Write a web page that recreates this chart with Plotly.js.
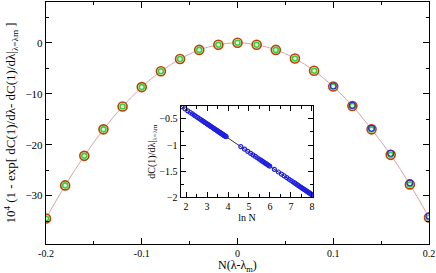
<!DOCTYPE html>
<html><head><meta charset="utf-8">
<script src="https://cdn.plot.ly/plotly-3.0.1.min.js"></script>
<style>html,body{margin:0;padding:0;background:#fff}#plot{width:436px;height:273px}</style>
</head><body><div id="plot"></div>
<script>
// main panel data
const mainX = [-0.2,-0.18,-0.16,-0.14,-0.12,-0.1,-0.08,-0.06,-0.04,-0.02,0,0.02,0.04,0.06,0.08,0.1,0.12,0.14,0.16,0.18,0.2];
const mainY = [-34.5,-28.0,-22.2,-17.0,-12.5,-8.7,-5.6,-3.2,-1.4,-0.4,0,-0.4,-1.4,-3.1,-5.5,-8.6,-12.4,-17.0,-22.0,-27.8,-34.3];
const blueX = [0.1,0.12,0.14,0.16,0.18,0.2];
const blueY = [-8.5,-12.3,-16.8,-21.7,-27.5,-34.0];
// inset data
const lnN = [1.79,1.95,2.08,2.20,2.30,2.40,2.48,2.56,2.64,2.71,2.77,2.83,2.89,2.94,3.00,3.04,3.09,3.14,3.18,3.22,3.26,3.30,3.33,3.37,3.40,3.43,3.47,3.50,3.53,3.56,3.58,3.61,3.64,3.66,3.69,3.71,3.74,3.76,3.78,3.81,3.83,3.85,3.87,3.89,3.91,
 4.61,4.79,4.94,5.08,5.19,5.30,5.39,5.48,5.56,5.63,5.70,5.77,5.83,5.89,5.94,5.99,
 6.21,6.40,6.55,6.68,6.80,6.91,7.00,7.09,7.17,7.24,7.31,7.38,7.44,7.50,7.55,7.60,7.65,7.70,7.74,7.78,7.82,7.86,7.90,7.94,7.97,8.01];
const dC = [-0.267,-0.310,-0.346,-0.378,-0.405,-0.432,-0.454,-0.476,-0.497,-0.516,-0.533,-0.549,-0.565,-0.579,-0.595,-0.606,-0.619,-0.633,-0.644,-0.655,-0.665,-0.676,-0.684,-0.695,-0.703,-0.712,-0.722,-0.731,-0.739,-0.747,-0.752,-0.760,-0.768,-0.774,-0.782,-0.787,-0.796,-0.801,-0.806,-0.815,-0.820,-0.825,-0.831,-0.836,-0.842,
 -1.031,-1.080,-1.121,-1.159,-1.188,-1.218,-1.243,-1.267,-1.289,-1.308,-1.327,-1.346,-1.362,-1.378,-1.392,-1.405,
 -1.465,-1.516,-1.557,-1.592,-1.625,-1.655,-1.679,-1.703,-1.725,-1.744,-1.763,-1.782,-1.798,-1.815,-1.828,-1.842,-1.855,-1.869,-1.880,-1.890,-1.901,-1.912,-1.923,-1.934,-1.942,-1.953];
const fitX = [1.75, 8.0];
const fitY = [-0.256, -1.95];
const mainTicksY = [-30,-20,-10,0];
const mainTicksX = [-0.2,-0.1,0,0.1,0.2];
const insetTicksX = [2,3,4,5,6,7,8];
const insetTicksY = [-2,-1.5,-1,-0.5];

const F = 'Liberation Serif, Times New Roman, serif';
const traces = [
  {x: mainX, y: mainY, mode: 'lines', line: {color: '#d9a3a3', width: 1, shape: 'spline'}, xaxis: 'x', yaxis: 'y', hoverinfo: 'skip'},
  {x: mainX, y: mainY, mode: 'markers', marker: {symbol: 'circle', size: 9, color: '#e8ffe0', line: {color: '#b8400c', width: 1.6}}, xaxis: 'x', yaxis: 'y'},
  {x: mainX, y: mainY, mode: 'markers', marker: {symbol: 'circle-open', size: 5, color: '#3ccf3c', line: {width: 1.6}}, xaxis: 'x', yaxis: 'y'},
  {x: blueX, y: blueY, mode: 'markers', marker: {symbol: 'circle-open', size: 6, color: '#2a2ae0', line: {width: 1.1}}, xaxis: 'x', yaxis: 'y'},
  {x: fitX, y: fitY, mode: 'lines', line: {color: '#000', width: 0.8}, xaxis: 'x2', yaxis: 'y2'},
  {x: lnN, y: dC, mode: 'markers', marker: {symbol: 'circle-open', size: 4, color: '#2020e0', line: {width: 1.2}}, xaxis: 'x2', yaxis: 'y2'}
];
const axBase = {showgrid: false, zeroline: false, showline: true, linecolor: '#000', linewidth: 1.2, mirror: 'allticks', ticks: 'inside', tickcolor: '#000', tickfont: {family: F, size: 11, color: '#000'}};
const layout = {
  width: 436, height: 273, showlegend: false,
  paper_bgcolor: '#fff', plot_bgcolor: '#fff',
  margin: {l: 46, r: 7, t: 2, b: 29},
  font: {family: F, color: '#000'},
  xaxis: Object.assign({}, axBase, {range: [-0.2, 0.2], tickvals: mainTicksX, ticktext: ['-0.2','-0.1','0','0.1','0.2'], ticklen: 6,
    tickfont: {family: F, size: 10, color: '#000'},
    minor: {dtick: 0.05, ticks: 'inside', ticklen: 3, tickcolor: '#000'}, domain: [0, 1]}),
  yaxis: Object.assign({}, axBase, {range: [-39.5, 8], tickvals: mainTicksY, ticklen: 6,
    minor: {dtick: 5, ticks: 'inside', ticklen: 3, tickcolor: '#000'},
    title: {text: '10<sup>4</sup> (1 - exp[ dC(1)/dλ- dC(1)/dλ|<sub>λ=λm</sub> ]', font: {family: F, size: 13}, standoff: 6}, domain: [0, 1]}),
  xaxis2: Object.assign({}, axBase, {anchor: 'y2', domain: [0.352, 0.697], range: [1.75, 8.05], tickvals: insetTicksX, ticklen: 5,
    tickfont: {family: F, size: 10, color: '#000'},
    minor: {dtick: 0.5, ticks: 'inside', ticklen: 3, tickcolor: '#000'},
    title: {text: 'ln N', font: {family: F, size: 10}, standoff: 0}}),
  yaxis2: Object.assign({}, axBase, {anchor: 'x2', domain: [0.193, 0.571], range: [-2, -0.25], tickvals: insetTicksY, ticklen: 5,
    tickfont: {family: F, size: 10, color: '#000'},
    minor: {dtick: 0.25, ticks: 'inside', ticklen: 3, tickcolor: '#000'},
    title: {text: 'dC(1)/dλ|<sub>λ=λm</sub>', font: {family: F, size: 10}, standoff: 2}}),
  annotations: [{text: 'N(λ-λ<sub>m</sub>)', xref: 'paper', yref: 'paper', x: 0.5, y: -0.12, xanchor: 'center', yanchor: 'bottom',
    showarrow: false, borderpad: 0, font: {family: F, size: 12, color: '#000'}, yshift: -2}]
};
Plotly.newPlot('plot', traces, layout, {staticPlot: true, displayModeBar: false});
</script></body></html>
